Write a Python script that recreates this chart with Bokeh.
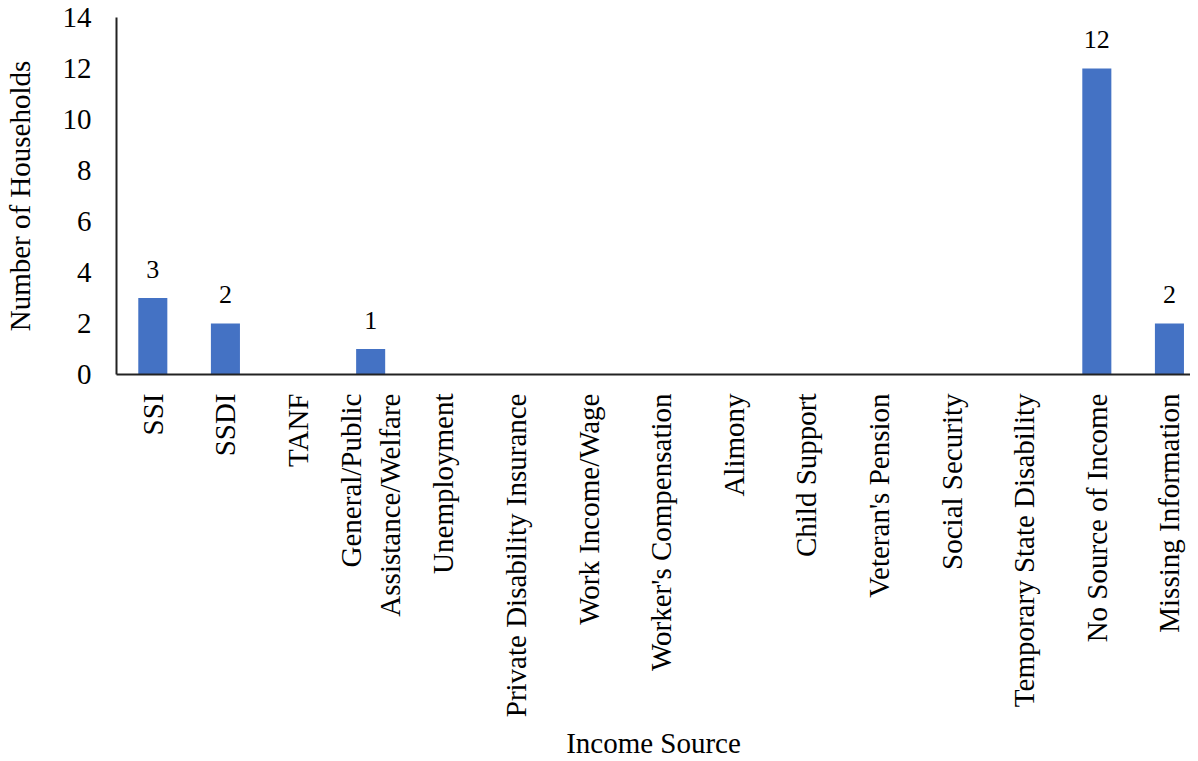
import math
from bokeh.plotting import figure
from bokeh.models import Range1d, FixedTicker, ColumnDataSource
from bokeh.core.properties import value
from bokeh.embed import file_html
from bokeh.resources import INLINE

categories = [
    "SSI", "SSDI", "TANF", "General/Public\nAssistance/Welfare", "Unemployment",
    "Private Disability Insurance", "Work Income/Wage", "Worker's Compensation",
    "Alimony", "Child Support", "Veteran's Pension", "Social Security",
    "Temporary State Disability", "No Source of Income", "Missing Information",
]
households = [3, 2, 0, 1, 0, 0, 0, 0, 0, 0, 0, 0, 0, 12, 2]
y_ticks = [0, 2, 4, 6, 8, 10, 12, 14]

FONT = "Liberation Serif"

xs = list(range(len(categories)))
bar_src = ColumnDataSource(dict(x=xs, top=households))
lab_x = [i for i, v in enumerate(households) if v > 0]
lab_y = [v for v in households if v > 0]
lab_t = [str(v) for v in households if v > 0]
lab_src = ColumnDataSource(dict(x=lab_x, y=lab_y, t=lab_t))

p = figure(
    frame_width=1074, frame_height=357,
    x_range=Range1d(-0.5, 14.29), y_range=Range1d(0, 14),
    output_backend="svg", toolbar_location=None,
    min_border_left=108, min_border_right=0, min_border_top=17, min_border_bottom=0,
)
p.outline_line_color = None
p.xgrid.grid_line_color = None
p.ygrid.grid_line_color = None

p.vbar(x="x", top="top", width=0.4, source=bar_src, fill_color="#4472C4", line_color=None)
p.text(x="x", y="y", text="t", source=lab_src, text_align="center",
       text_baseline="alphabetic", y_offset=-29, text_font=value(FONT),
       text_font_size="26px", text_color="#000000")

xa = p.xaxis[0]
xa.ticker = FixedTicker(ticks=xs)
xa.major_label_overrides = {i: c for i, c in enumerate(categories)}
xa.major_label_orientation = math.pi / 2
xa.major_tick_line_color = None
xa.minor_tick_line_color = None
xa.major_tick_out = 0
xa.major_tick_in = 0
xa.major_label_standoff = 19
xa.major_label_text_font = FONT
xa.major_label_text_font_size = "29px"
xa.major_label_text_color = "#000000"
xa.axis_line_color = "#222222"
xa.axis_line_width = 2
xa.axis_label = "Income Source"
xa.axis_label_text_font = FONT
xa.axis_label_text_font_size = "29px"
xa.axis_label_text_font_style = "normal"
xa.axis_label_text_color = "#000000"
xa.axis_label_standoff = 7

ya = p.yaxis[0]
ya.ticker = FixedTicker(ticks=y_ticks)
ya.major_tick_line_color = None
ya.minor_tick_line_color = None
ya.major_tick_out = 0
ya.major_tick_in = 0
ya.major_label_standoff = 25
ya.major_label_text_font = FONT
ya.major_label_text_font_size = "29px"
ya.major_label_text_color = "#000000"
ya.axis_line_color = "#222222"
ya.axis_line_width = 2
ya.axis_label = "Number of Households"
ya.axis_label_text_font = FONT
ya.axis_label_text_font_size = "29px"
ya.axis_label_text_font_style = "normal"
ya.axis_label_text_color = "#000000"
ya.axis_label_standoff = 24

open("out.html", "w").write(file_html(p, INLINE))
